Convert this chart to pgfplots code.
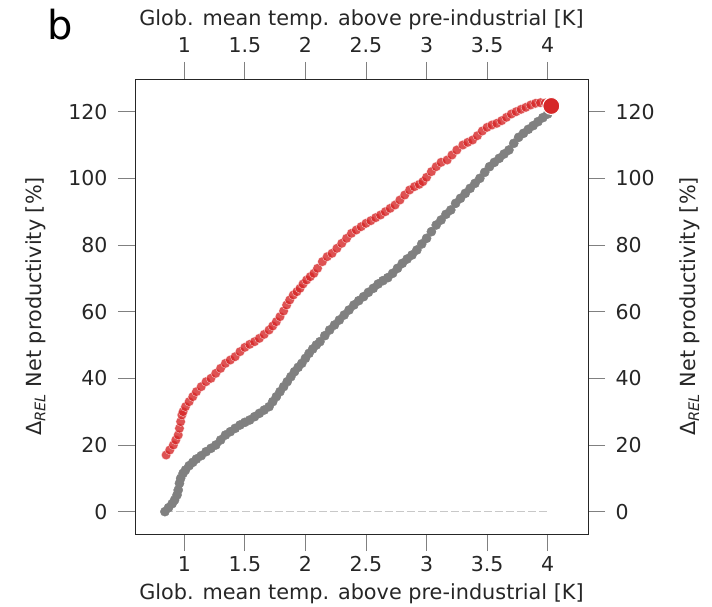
\documentclass[border=0pt]{standalone}
\usepackage{pgfplots}
\pgfplotsset{compat=1.18}
\usepackage{fontspec}
\setmainfont{DejaVu Sans}
\definecolor{mred}{RGB}{214,39,40}
\definecolor{mgray}{RGB}{128,128,128}
\definecolor{dashgray}{RGB}{200,200,200}
\pgfplotstableread{
x y
0.85 17
0.88 18.5
0.91 20
0.93 21.5
0.95 23
0.96 25
0.97 27
0.98 29
0.99 30
1.01 31.5
1.04 33
1.07 34.5
1.10 36
1.14 37.5
1.18 39
1.22 40
1.26 41.5
1.30 43
1.34 44.5
1.38 45.5
1.42 46.5
1.46 48
1.50 49.3
1.54 50.2
1.58 51
1.62 52
1.66 53.2
1.70 54.5
1.73 55.7
1.76 57
1.79 58.5
1.82 60.2
1.845 62
1.87 63.5
1.90 65
1.93 66
1.955 67
1.98 68.3
2.01 69.5
2.04 70.5
2.07 71.5
2.10 73
2.14 75
2.18 76.5
2.22 77.5
2.26 79
2.30 80.5
2.34 82
2.38 83.5
2.42 84.5
2.46 85.5
2.50 86.5
2.54 87.3
2.58 88.2
2.62 89
2.66 90
2.70 91
2.74 92
2.78 93.5
2.82 95
2.86 96.5
2.90 97.5
2.94 98.2
2.97 99
3.00 100.3
3.04 102
3.08 103.5
3.12 104.8
3.17 105.5
3.21 107
3.25 108.5
3.30 110
3.34 110.8
3.38 111.5
3.42 112.8
3.46 114.2
3.50 115.3
3.54 116
3.58 116.5
3.62 117.3
3.66 118.3
3.70 119.3
3.74 120
3.78 120.7
3.82 121.3
3.86 122
3.90 122.5
3.94 122.7
3.98 122.6
}\redtab
\pgfplotstableread{
x y
0.84 0
0.87 1.2
0.90 2.4
0.92 3.5
0.94 5
0.95 6.5
0.96 8.5
0.97 10
0.99 11.5
1.01 12.5
1.04 13.8
1.07 14.8
1.10 15.8
1.14 16.8
1.18 18
1.22 19
1.26 20
1.30 21.5
1.34 23
1.38 24
1.42 25
1.46 26
1.50 26.8
1.54 27.5
1.58 28.5
1.62 29.5
1.66 30.5
1.70 31.5
1.73 33
1.76 34.5
1.79 36
1.82 37.5
1.85 39
1.88 40.5
1.91 42
1.94 43.3
1.97 44.5
2.00 46
2.03 47.5
2.06 48.8
2.09 50
2.12 51
2.16 52.8
2.20 54.5
2.24 56
2.28 57.5
2.32 59
2.36 60.5
2.40 62
2.44 63.3
2.48 64.5
2.52 65.8
2.56 67
2.60 68.3
2.64 69.3
2.68 70.2
2.72 71.5
2.76 73
2.80 74.5
2.84 75.8
2.88 77
2.92 78.5
2.96 80.3
3.00 82
3.04 84
3.08 86
3.12 87.5
3.16 89.2
3.20 90.5
3.24 92.5
3.28 94
3.32 95.5
3.36 97
3.40 98.5
3.44 100
3.48 101.8
3.52 103.5
3.56 104.8
3.60 106
3.64 107.3
3.68 108.5
3.72 110.5
3.76 112.3
3.80 113.5
3.84 114.7
3.88 115.8
3.92 117
3.96 118.2
4.00 119.3
}\graytab
\pgfplotsset{
  common/.style={
    at={(0,0)}, anchor=south west,
    scale only axis, width=453pt, height=455pt,
    xmin=0.593, xmax=4.333, ymin=-6.7, ymax=129.8,
    xtick={1,1.5,2,2.5,3,3.5,4},
    ytick={0,20,40,60,80,100,120},
    xticklabels={1,1.5,2,2.5,3,3.5,4},
    yticklabels={0,20,40,60,80,100,120},
    tick align=outside, major tick length=17pt,
    tick style={color=mgray, line width=0.9pt},
    axis line style={black!85, line width=0.9pt},
    ticklabel style={font=\fontsize{20.5}{23}\selectfont, text=black!85},
    label style={font=\fontsize{20.8}{23}\selectfont, text=black!85},
    /pgf/number format/assume math mode=true,
  }
}
\begin{document}
\begin{tikzpicture}
\begin{axis}[common, clip=false,
  xtick pos=lower, ytick pos=left,
  xticklabel style={yshift=-2pt}, yticklabel style={xshift=-7pt},
  xlabel={Glob. mean temp. above pre-industrial [K]},
  ylabel={Δ\textsubscript{\textit{REL}} Net productivity [\%]},
  xlabel style={at={(axis description cs:0.5,-0.132)}, anchor=center},
  ylabel style={at={(axis description cs:-0.218,0.5)}, anchor=center, rotate=0},
]
\addplot[dashgray, dash pattern=on 8pt off 3pt, line width=1.6pt] coordinates {(0.84,0) (4.0,0)};
\addplot[mgray, only marks, mark=*, mark size=4.6pt] table[x=x,y=y] {\graytab};
\addplot[mred, only marks, mark=*, mark size=4.8pt, mark options={fill=mred, draw=white, line width=0.3pt, opacity=0.8}] table[x=x,y=y] {\redtab};
\addplot[mred, only marks, mark=*, mark size=8.5pt, mark options={fill=mred, draw=white, line width=1pt}] coordinates {(4.03,121.7)};
\node[font=\fontsize{40}{44}\selectfont, anchor=center] at (axis description cs:-0.166,1.119) {b};
\end{axis}
\begin{axis}[common,
  xtick pos=upper, ytick pos=right,
  xticklabel pos=upper, yticklabel pos=right,
  xticklabel style={yshift=6pt}, yticklabel style={xshift=7pt},
  xlabel={Glob. mean temp. above pre-industrial [K]},
  ylabel={Δ\textsubscript{\textit{REL}} Net productivity [\%]},
  xlabel style={at={(axis description cs:0.5,1.13)}, anchor=center},
  ylabel style={at={(axis description cs:1.225,0.5)}, anchor=center, rotate=0},
]
\end{axis}
\pgfresetboundingbox
\path (-135pt,-73pt) rectangle (577pt,534pt);
\end{tikzpicture}
\end{document}
